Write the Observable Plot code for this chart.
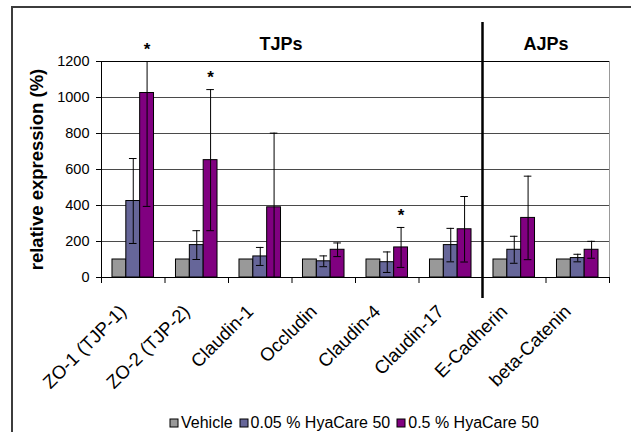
<!DOCTYPE html>
<html><head><meta charset="utf-8">
<script src="https://cdn.jsdelivr.net/npm/d3@7"></script>
<script src="https://cdn.jsdelivr.net/npm/@observablehq/plot@0.6"></script>
<style>
html,body{margin:0;padding:0;background:#fff;overflow:hidden}
#wrap{position:relative;width:631px;height:432px;overflow:hidden;background:#fff}
#frame{position:absolute;left:11px;top:6px;width:800px;height:800px;border:2px solid #3c3c3c;pointer-events:none;z-index:2}
#wrap svg{display:block;background:transparent}
.lg-swatches{font-family:"Liberation Sans",Arial,sans-serif !important;font-size:16px !important;color:#000 !important;margin:0 0 0 170px !important}
.lg-swatch{margin-right:7px !important}
.lg-swatch>svg{margin-right:3px !important}
.lg-swatch rect{stroke:#000;stroke-width:1px}
</style></head>
<body><div id="wrap"><div id="frame"></div></div>
<script>
const categories = ["ZO-1 (TJP-1)", "ZO-2 (TJP-2)", "Claudin-1", "Occludin", "Claudin-4", "Claudin-17", "E-Cadherin", "beta-Catenin"];
const series = ["Vehicle", "0.05 % HyaCare 50", "0.5 % HyaCare 50"];
const colors = ["#999999", "#666699", "#800080"];
const vehicle    = [100, 100, 100, 100, 100, 100, 100, 100];
const vehicleErr = [0, 0, 0, 0, 0, 0, 0, 0];
const hya005     = [425, 180, 117, 90, 85, 180, 154, 108];
const hya005Err  = [236, 80, 50, 30, 57, 93, 75, 21];
const hya05      = [1025, 652, 390, 154, 167, 268, 331, 154];
const hya05Err   = [630, 392, 412, 38, 111, 182, 232, 47];
const stars05    = ["*", "*", "", "", "*", "", "", ""];
const groupNames = ["TJPs", "AJPs"];
const groupStart = [0, 6];
const groupEnd   = [6, 8];
const yTicks = [0, 200, 400, 600, 800, 1000, 1200];

const font = '"Liberation Sans", Arial, sans-serif';
const barW = 0.218, groupOff = (1 - 3 * barW) / 2, capW = 0.06;
const vals = [vehicle, hya005, hya05];
const errs = [vehicleErr, hya005Err, hya05Err];
const rows = [];
vals.forEach((arr, si) => arr.forEach((v, ci) => rows.push({
  cat: categories[ci], ci, si, series: series[si], value: v, err: errs[si][ci],
  star: si === 2 ? stars05[ci] : ""
})));
const cx = d => d.ci + groupOff + (d.si + 0.5) * barW;
const errRows = rows.filter(d => d.err > 0);
const starRows = rows.filter(d => d.star);
const yMax = yTicks[yTicks.length - 1];
const groups = groupNames.map((g, i) => ({name: g, mid: (groupStart[i] + groupEnd[i]) / 2}));

const chart = Plot.plot({
  width: 631, height: 406,
  marginLeft: 101, marginRight: 22, marginTop: 61, marginBottom: 129,
  style: {fontFamily: font, fontSize: "14px", color: "#000", background: "transparent"},
  x: {type: "linear", domain: [0, categories.length], axis: null},
  y: {domain: [0, yMax], axis: null},
  color: {domain: series, range: colors},
  marks: [
    Plot.ruleY(yTicks.filter(t => t > 0 && t < yMax), {stroke: "#4a4a4a", strokeWidth: 1}),
    Plot.ruleY([yMax], {stroke: "#000", strokeWidth: 1}),
    Plot.ruleX([categories.length], {stroke: "#999", strokeWidth: 1}),
    Plot.rectY(rows, {
      x1: d => d.ci + groupOff + d.si * barW,
      x2: d => d.ci + groupOff + (d.si + 1) * barW,
      y1: 0, y2: "value", fill: "series", stroke: "#000", strokeWidth: 1
    }),
    Plot.ruleX(errRows, {x: cx, y1: d => d.value - d.err, y2: d => d.value + d.err, stroke: "#000", strokeWidth: 1, clip: true}),
    Plot.ruleY(errRows, {y: d => d.value + d.err, x1: d => cx(d) - capW, x2: d => cx(d) + capW, stroke: "#000", strokeWidth: 1, clip: true}),
    Plot.ruleY(errRows, {y: d => d.value - d.err, x1: d => cx(d) - capW, x2: d => cx(d) + capW, stroke: "#000", strokeWidth: 1, clip: true}),
    Plot.ruleX([0], {stroke: "#000", strokeWidth: 1}),
    Plot.ruleY([0], {stroke: "#000", strokeWidth: 1}),
    Plot.axisY({ticks: yTicks, tickSize: 5, tickPadding: 7, tickFormat: d => String(d), label: null, fontSize: 14.5}),
    Plot.axisX({ticks: d3.range(0, categories.length + 1), tickSize: 6, tickFormat: () => "", label: null}),
    Plot.text(categories, {
      x: (d, i) => i + 0.5, frameAnchor: "bottom", text: d => d,
      rotate: -45, textAnchor: "end", lineAnchor: "middle", dx: -10, dy: 31, fontSize: 18.5
    }),
    Plot.text(starRows, {x: cx, y: d => Math.min(d.value + d.err, yMax), text: "star", dy: -12, fontSize: 17, fontWeight: "bold"}),
    Plot.text(groups.slice(0, 1), {x: "mid", frameAnchor: "top", text: "name", dy: -24, dx: -11, fontSize: 18, fontWeight: "bold"}),
    Plot.text(groups.slice(1), {x: "mid", frameAnchor: "top", text: "name", dy: -24, fontSize: 18, fontWeight: "bold"}),
    Plot.ruleX([groupStart[1]], {stroke: "#000", strokeWidth: 2.5, insetTop: -39, insetBottom: -21}),
    Plot.text(["relative expression (%)"], {frameAnchor: "left", dx: -64, rotate: -90, textAnchor: "middle", text: d => d, fontSize: 18.5, fontWeight: "bold"})
  ]
});

const legend = Plot.legend({
  color: {domain: series, range: colors},
  legend: "swatches", swatchSize: 8, className: "lg"
});
const wrap = document.getElementById("wrap");
wrap.appendChild(chart);
wrap.appendChild(legend);
</script></body></html>
